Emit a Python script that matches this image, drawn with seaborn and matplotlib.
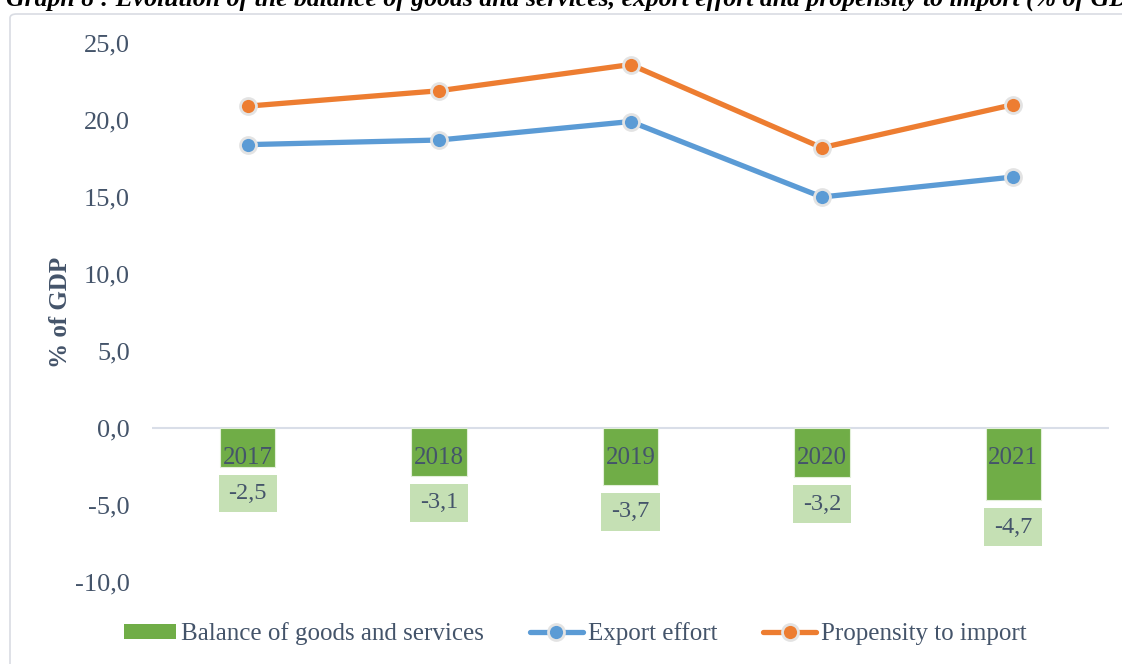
import matplotlib
matplotlib.use("Agg")
import matplotlib.pyplot as plt
from matplotlib.patches import FancyBboxPatch, Patch
from matplotlib.lines import Line2D
from matplotlib.path import Path
import seaborn as sns
import pandas as pd

# ---- data (% of GDP) ----
years = ["2017", "2018", "2019", "2020", "2021"]
balance = [-2.5, -3.1, -3.7, -3.2, -4.7]
export_effort = [18.4, 18.7, 19.9, 15.0, 16.3]
propensity_import = [20.9, 21.9, 23.6, 18.2, 21.0]
y_ticks = [-10, -5, 0, 5, 10, 15, 20, 25]

title = ("Graph 8 : Evolution of the balance of goods and services, "
         "export effort and propensity to import (% of GDP)")

GREEN = "#70AD47"
LIGHT_GREEN = "#C5E0B4"
BLUE = "#5B9BD5"
ORANGE = "#ED7D31"
TEXT = "#44546A"

sns.set_theme(style="white")
plt.rcParams["font.family"] = ["Liberation Serif", "DejaVu Serif"]

df = pd.DataFrame({"year": years, "balance": balance,
                   "export": export_effort, "import": propensity_import})

W, H, DPI = 1122, 664, 100
fig = plt.figure(figsize=(W / DPI, H / DPI), dpi=DPI)
ax = fig.add_axes([152 / W, 1 - 582 / H, (1109 - 152) / W, (582 - 43) / H])

# outer chart frame
frame = FancyBboxPatch((10 / W, -0.05), 1.2, 1 - 14 / H + 0.05,
                       boxstyle="round,pad=0,rounding_size=0.006",
                       transform=fig.transFigure, facecolor="none",
                       edgecolor="#D9DCE3", linewidth=1.2, zorder=0)
fig.patches.append(frame)

# bars
sns.barplot(data=df, x="year", y="balance", color=GREEN, width=0.29,
            saturation=1, edgecolor="#E2EFD9", linewidth=0.8, ax=ax, zorder=2)

# lines
line_kw = dict(linewidth=3.8, markersize=11.5, markeredgecolor="#E3E3E3",
               markeredgewidth=2.0)
sns.pointplot(data=df, x="year", y="export", color=BLUE, markers="o",
              ax=ax, **line_kw)
sns.pointplot(data=df, x="year", y="import", color=ORANGE, markers="o",
              ax=ax, **line_kw)

ax.set_xlim(-0.5, len(years) - 0.5)
ax.set_ylim(-10, 25)
ax.axhline(0, color="#D9DEE8", linewidth=1.5, zorder=1)

for s in ax.spines.values():
    s.set_visible(False)
ax.grid(False)

ax.set_xticks([])
ax.set_xlabel("")
ax.set_yticks(y_ticks)
ax.set_yticklabels([f"{v:.1f}".replace(".", ",") for v in y_ticks],
                   fontsize=19, color=TEXT)
ax.tick_params(axis="y", length=0, pad=16)
ax.set_ylabel("% of GDP", fontsize=18, fontweight="bold", color=TEXT)
ax.yaxis.set_label_coords(-0.084, 0.5)


def label_box(x0, y0, width, height, mutation_size):
    """Fixed-proportion rectangle centred on the data label."""
    cx, cy = x0 + width / 2, y0 + height / 2
    hw, hh = 1.2 * mutation_size, 0.78 * mutation_size
    return Path([(cx - hw, cy - hh), (cx + hw, cy - hh), (cx + hw, cy + hh),
                 (cx - hw, cy + hh), (cx - hw, cy - hh)], closed=True)


# category labels inside the bars and value labels below them
for i, (yr, v) in enumerate(zip(years, balance)):
    ax.annotate(yr, (i, 0), xytext=(0, -30), textcoords="offset pixels",
                ha="center", va="center", fontsize=18, color=TEXT, zorder=5)
    ax.annotate(f"{v:.1f}".replace(".", ","), (i, v), xytext=(0, -27),
                textcoords="offset pixels", ha="center", va="center",
                fontsize=17.5, color=TEXT, zorder=5,
                bbox=dict(boxstyle=label_box, facecolor=LIGHT_GREEN,
                          edgecolor="none"))

# legend
handles = [
    Patch(facecolor=GREEN, edgecolor="none"),
    Line2D([], [], color=BLUE, marker="o", **line_kw),
    Line2D([], [], color=ORANGE, marker="o", **line_kw),
]
labels = ["Balance of goods and services", "Export effort", "Propensity to import"]
fig.legend(handles, labels, loc="center", bbox_to_anchor=(575 / W, 1 - 634 / H),
           ncol=3, frameon=False, fontsize=18, handlelength=2.1,
           handletextpad=0.2, columnspacing=1.85, numpoints=1,
           labelcolor=TEXT, handleheight=0.55)

# chart title (clipped at the top edge)
fig.text(6 / W, 1 - 6 / H, title, ha="left", va="baseline", fontsize=18.5,
         fontweight="bold", fontstyle="italic", color="black")

fig.savefig("out.png", dpi=DPI)
